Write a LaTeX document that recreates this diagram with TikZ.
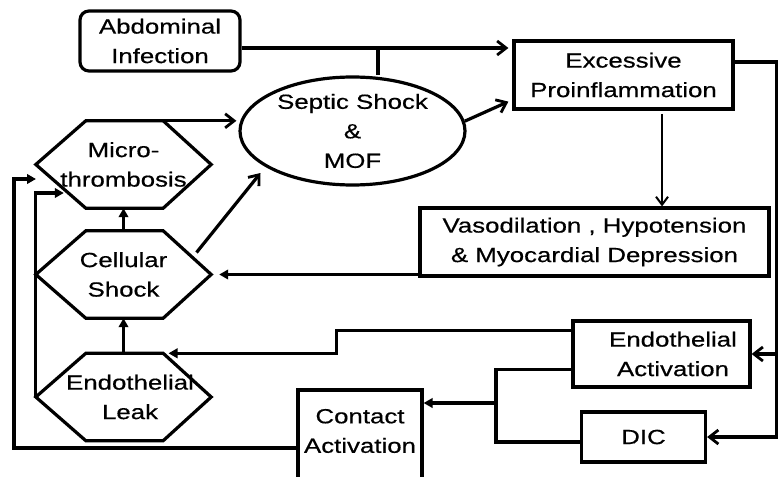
\documentclass[tikz,border=0pt]{standalone}
\usepackage{fontspec}
\setmainfont[FakeStretch=1.26,FakeBold=0.5]{Liberation Sans}
\usetikzlibrary{calc,arrows.meta,shapes.geometric}

\tikzset{
  x=1pt, y=-1pt,
  every node/.style={font={\fontsize{20.5}{29.5}\selectfont}, align=center, inner sep=0pt},
  boxnode/.style={draw, line width=3.2pt, rectangle},
  hexnode/.style={rectangle, minimum width=175pt, minimum height=87pt},
  conn/.style={line width=3.2pt},
  barb/.style={conn, -{Straight Barb[length=9pt,width=14pt,line width=2.8pt]}},
  tri/.style={conn, -{Triangle[length=9pt,width=9.5pt]}},
  thinbarb/.style={line width=2pt, -{Straight Barb[length=8pt,width=12pt,line width=2pt]}},
}

% six-sided outline around a hexnode
\newcommand\hexoutline[1]{%
  \draw[line width=3.2pt, line join=miter]
    (#1.west) -- ($(#1.north west)+(50,0)$) -- ($(#1.north east)+(-48,0)$)
    -- (#1.east) -- ($(#1.south east)+(-48,0)$) -- ($(#1.south west)+(50,0)$) -- cycle;}

\begin{document}
\begin{tikzpicture}
\useasboundingbox (0,0) rectangle (778,476);

% boxes
\node[boxnode, rounded corners=9pt, minimum width=160pt, minimum height=60pt] (abd) at (160,41) {Abdominal\\Infection};
\node[boxnode, minimum width=219pt, minimum height=68pt] (exc) at (623.5,75) {Excessive\\Proinflammation};
\node[draw, ellipse, line width=3.2pt, minimum width=225pt, minimum height=108pt] (sep) at (352.5,131) {Septic Shock\\\&\\MOF};
\node[boxnode, minimum width=349pt, minimum height=68pt] (vaso) at (594.5,242) {Vasodilation , Hypotension\\\& Myocardial Depression};
\node[boxnode, minimum width=177pt, minimum height=66pt] (endo) at (661.5,354) {};
\node (endotext) at (673,354) {Endothelial\\Activation};
\node[boxnode, minimum width=124pt, minimum height=50pt] (dic) at (643.5,437) {DIC};
\node[boxnode, minimum width=124pt, minimum height=94pt] (con) at (360,437) {};
\node (context) at (360,431) {Contact\\Activation};

% hexagons
\node[hexnode] (micro) at (123.5,164.5) {Micro-\\thrombosis};
\node[hexnode] (cell) at (123.5,274.5) {Cellular\\Shock};
\node[hexnode] (leak) at (123.5,397) {};
\node (leaktext) at (130,397) {Endothelial\\Leak};
\hexoutline{micro}
\hexoutline{cell}
\hexoutline{leak}

% top: infection feeding both the septic shock and the inflammation
\coordinate (j1) at (378,48);
\draw[barb] (abd.east |- j1) -- ($(exc.west |- j1)+(-4,0)$);
\draw[conn] (j1) -- (j1 |- sep.north);
\draw[barb] (sep.5) -- ($(exc.south west)+(-4,-9)$);

% hexagons into septic shock
\draw[barb] ($(micro.north east)+(-48,0)$) -- ($(sep.west |- micro.north)+(-2,0)$);
\draw[barb] ($(cell.center)+(73,-22)$) -- ($(sep.center)+(-92,42)$);

% hexagon stack
\draw[tri] (cell.north) -- (micro.south);
\draw[tri] (leak.north) -- (cell.south);

% inflammation cascade
\coordinate (c1) at (662,114);
\draw[thinbarb] (c1) -- (c1 |- vaso.north);
\draw[tri] (vaso.west |- cell.east) -- ($(cell.east)+(8,0)$);

% right-hand feed to activation and DIC
\coordinate (r1) at (777,62);
\draw[barb] (exc.east |- r1) -- (r1) -- (r1 |- dic.east) -- (dic.east);
\draw[barb] (r1 |- endo.east) -- (endo.east);

% activation to endothelial leak
\draw[tri] ($(endo.north west)+(0,11)$) -- ++(-235,0) |- ($(leak.north)+(45,0)$);

% activation and DIC merge into contact activation
\coordinate (j2) at (496,403);
\draw[conn] ($(endo.south west)+(0,-19)$) -| (j2);
\draw[conn] ($(dic.west)+(0,5)$) -| (j2);
\draw[tri] (j2) -- (j2 -| con.east);

% left-side return lines into microthrombosis
\coordinate (l1) at (14,179);
\draw[tri] (con.west |- 0,448) -| (l1) -- ++(22,0);
\draw[tri] (leak.west) -- (leak.west |- 0,193) -- ++(28,0);
\end{tikzpicture}
\end{document}
